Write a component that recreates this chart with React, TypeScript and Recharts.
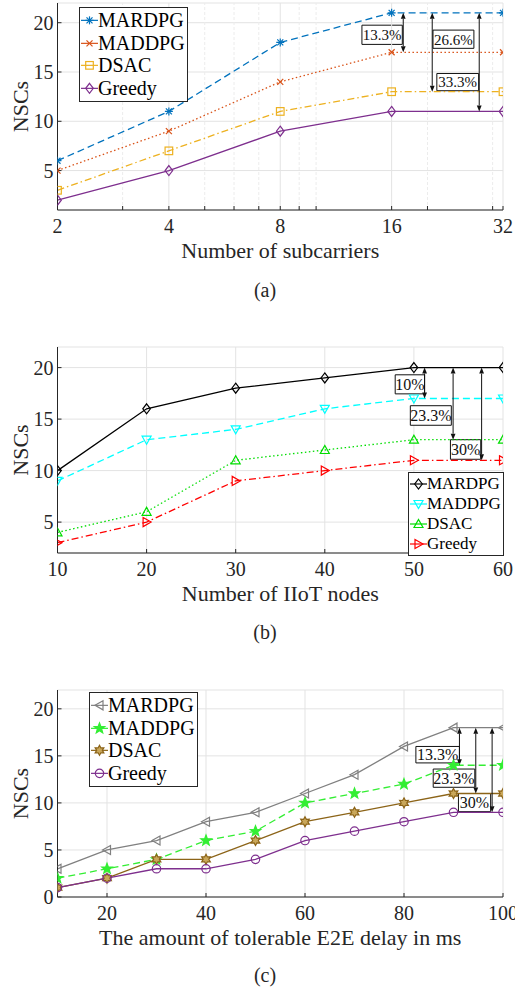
import React from 'react'
import { LineChart, Line, XAxis, YAxis, CartesianGrid, Legend, ReferenceLine, ReferenceArea } from 'recharts'

const FONT = "'Liberation Serif', 'Times New Roman', serif"
const INK = '#262626'

// (a) number of subcarriers
const subcarriers = [2, 4, 8, 16, 32]
const aMARDPG = [6, 11, 18, 21, 21]
const aMADDPG = [5, 9, 14, 17, 17]
const aDSAC = [3, 7, 11, 13, 13]
const aGreedy = [2, 5, 9, 11, 11]
const aTicks = [2, 4, 8, 16, 32]
const aMinor = [3, 5, 6, 7, 9, 10, 20, 30]

// (b) number of IIoT nodes
const nodes = [10, 20, 30, 40, 50, 60]
const bMARDPG = [10, 16, 18, 19, 20, 20]
const bMADDPG = [9, 13, 14, 16, 17, 17]
const bDSAC = [4, 6, 11, 12, 13, 13]
const bGreedy = [3, 5, 9, 10, 11, 11]
const bTicks = [10, 20, 30, 40, 50, 60]

// (c) tolerable E2E delay
const delays = [10, 20, 30, 40, 50, 60, 70, 80, 90, 100]
const cMARDPG = [3, 5, 6, 8, 9, 11, 13, 16, 18, 18]
const cMADDPG = [2, 3, 4, 6, 7, 10, 11, 12, 14, 14]
const cDSAC = [1, 2, 4, 4, 6, 8, 9, 10, 11, 11]
const cGreedy = [1, 2, 3, 3, 4, 6, 7, 8, 9, 9]
const cTicks = [20, 40, 60, 80, 100]

const yTicks5 = [5, 10, 15, 20]
const yTicks0 = [0, 5, 10, 15, 20]

// gap annotations (data coordinates)
const aArrows = [
  { x: 17.2, from: 21, to: 17 },
  { x: 20.6, from: 21, to: 13 },
  { x: 27.6, from: 21, to: 11 },
]
const aBoxes = [
  { x1: 13.3, x2: 17.1, y1: 17.8, y2: 19.75, text: '13.3%' },
  { x1: 20.7, x2: 26.7, y1: 17.4, y2: 19.25, text: '26.6%' },
  { x1: 21.2, x2: 27.5, y1: 13.1, y2: 14.85, text: '33.3%' },
]
const bArrows = [
  { x: 51.2, from: 20, to: 17 },
  { x: 54.4, from: 20, to: 13 },
  { x: 57.6, from: 20, to: 11 },
]
const bBoxes = [
  { x1: 47.9, x2: 51.2, y1: 17.45, y2: 19.3, text: '10%' },
  { x1: 49.6, x2: 54.2, y1: 14.4, y2: 16.3, text: '23.3%' },
  { x1: 54.1, x2: 57.5, y1: 11.1, y2: 13.0, text: '30%' },
]
const cArrows = [
  { x: 91.2, from: 18, to: 14 },
  { x: 94.5, from: 18, to: 11 },
  { x: 97.8, from: 18, to: 9 },
]
const cBoxes = [
  { x1: 82.4, x2: 91.2, y1: 14.25, y2: 16.0, text: '13.3%' },
  { x1: 85.9, x2: 94.3, y1: 11.66, y2: 13.6, text: '23.3%' },
  { x1: 91.0, x2: 97.5, y1: 9.07, y2: 11.0, text: '30%' },
]

type Shape =
  | 'asterisk' | 'cross' | 'square' | 'diamond' | 'tdown' | 'tup' | 'tright' | 'tleft'
  | 'pentagram' | 'hexagram' | 'circle'

interface Series {
  name: string
  values: number[]
  color: string
  dash?: string
  shape: Shape
}

const DASHED = '7 4'
const DOTTED = '1.5 2.5'
const DASHDOT = '7 3 1.5 3'

const aSeries: Series[] = [
  { name: 'MARDPG', values: aMARDPG, color: '#0072BD', dash: DASHED, shape: 'asterisk' },
  { name: 'MADDPG', values: aMADDPG, color: '#D95319', dash: DOTTED, shape: 'cross' },
  { name: 'DSAC', values: aDSAC, color: '#EDB120', dash: DASHDOT, shape: 'square' },
  { name: 'Greedy', values: aGreedy, color: '#7E2F8E', shape: 'diamond' },
]
const bSeries: Series[] = [
  { name: 'MARDPG', values: bMARDPG, color: '#000000', shape: 'diamond' },
  { name: 'MADDPG', values: bMADDPG, color: '#00FFFF', dash: DASHED, shape: 'tdown' },
  { name: 'DSAC', values: bDSAC, color: '#00DD00', dash: DOTTED, shape: 'tup' },
  { name: 'Greedy', values: bGreedy, color: '#FF0000', dash: DASHDOT, shape: 'tright' },
]
const cSeries: Series[] = [
  { name: 'MARDPG', values: cMARDPG, color: '#808080', shape: 'tleft' },
  { name: 'MADDPG', values: cMADDPG, color: '#33EE33', dash: DASHED, shape: 'pentagram' },
  { name: 'DSAC', values: cDSAC, color: '#8C6418', shape: 'hexagram' },
  { name: 'Greedy', values: cGreedy, color: '#7E2F8E', shape: 'circle' },
]

function starPoints(cx: number, cy: number, n: number, ro: number, ri: number) {
  const pts: string[] = []
  for (let i = 0; i < n * 2; i++) {
    const r = i % 2 === 0 ? ro : ri
    const a = -Math.PI / 2 + (i * Math.PI) / n
    pts.push(`${cx + r * Math.cos(a)},${cy + r * Math.sin(a)}`)
  }
  return pts.join(' ')
}

function Marker({ shape, cx, cy, color }: { shape: Shape; cx: number; cy: number; color: string }) {
  const common = { stroke: color, strokeWidth: 1.2, fill: 'none' }
  switch (shape) {
    case 'asterisk':
      return (
        <g {...common}>
          <line x1={cx - 4} y1={cy} x2={cx + 4} y2={cy} />
          <line x1={cx} y1={cy - 4} x2={cx} y2={cy + 4} />
          <line x1={cx - 3} y1={cy - 3} x2={cx + 3} y2={cy + 3} />
          <line x1={cx - 3} y1={cy + 3} x2={cx + 3} y2={cy - 3} />
        </g>
      )
    case 'cross':
      return (
        <g {...common}>
          <line x1={cx - 3} y1={cy - 3} x2={cx + 3} y2={cy + 3} />
          <line x1={cx - 3} y1={cy + 3} x2={cx + 3} y2={cy - 3} />
        </g>
      )
    case 'square':
      return <rect x={cx - 3.8} y={cy - 3.8} width={7.6} height={7.6} {...common} />
    case 'diamond':
      return <polygon points={`${cx},${cy - 5} ${cx + 3.8},${cy} ${cx},${cy + 5} ${cx - 3.8},${cy}`} {...common} />
    case 'tdown':
      return <polygon points={`${cx - 4.5},${cy - 3.5} ${cx + 4.5},${cy - 3.5} ${cx},${cy + 4.5}`} {...common} />
    case 'tup':
      return <polygon points={`${cx - 4.5},${cy + 3.5} ${cx + 4.5},${cy + 3.5} ${cx},${cy - 4.5}`} {...common} />
    case 'tright':
      return <polygon points={`${cx - 3.5},${cy - 4.5} ${cx - 3.5},${cy + 4.5} ${cx + 4.5},${cy}`} {...common} />
    case 'tleft':
      return <polygon points={`${cx + 3.5},${cy - 4.5} ${cx + 3.5},${cy + 4.5} ${cx - 4.5},${cy}`} {...common} />
    case 'pentagram':
      return <polygon points={starPoints(cx, cy, 5, 5.5, 2.3)} {...common} fill={color} />
    case 'hexagram':
      return <polygon points={starPoints(cx, cy, 6, 5, 2.8)} {...common} fill="#c9a75a" />
    case 'circle':
      return <circle cx={cx} cy={cy} r={4.2} {...common} />
  }
  return null
}

function LegendBox({ series, fontSize, rowH, sampleW }: { series: Series[]; fontSize: number; rowH: number; sampleW: number }) {
  return (
    <div
      style={{
        border: `1px solid ${INK}`,
        background: '#fff',
        fontFamily: FONT,
        fontSize,
        color: '#000',
        padding: '1px 2px 1px 0',
        display: 'inline-block',
      }}
    >
      {series.map((s) => (
        <div key={s.name} style={{ display: 'flex', alignItems: 'center', height: rowH, lineHeight: `${rowH}px` }}>
          <svg width={sampleW} height={rowH} style={{ display: 'block' }}>
            <line x1={1} x2={sampleW} y1={rowH / 2} y2={rowH / 2} stroke={s.color} strokeWidth={1.2} />
            <Marker shape={s.shape} cx={sampleW / 2 + 0.5} cy={rowH / 2} color={s.color} />
          </svg>
          <span>{s.name}</span>
        </div>
      ))}
    </div>
  )
}

const ArrowShape = (p: any) => {
  const { x1, y1, x2, y2 } = p
  const h = 6
  const w = 2.4
  const c = '#111'
  return (
    <g>
      <line x1={x1} y1={y1 + h} x2={x2} y2={y2 - h} stroke={c} strokeWidth={1} />
      <polygon points={`${x1},${y1} ${x1 - w},${y1 + h} ${x1 + w},${y1 + h}`} fill={c} />
      <polygon points={`${x2},${y2} ${x2 - w},${y2 - h} ${x2 + w},${y2 - h}`} fill={c} />
    </g>
  )
}

const YTitle = (p: any) => {
  const vb = p.viewBox || { x: 0, y: 0, height: 0 }
  const x = vb.x + 20
  const y = vb.y + vb.height / 2
  return (
    <text
      x={x}
      y={y}
      transform={`rotate(-90, ${x}, ${y})`}
      textAnchor="middle"
      dominantBaseline="central"
      style={{ fontFamily: FONT, fontSize: 22 }}
      fill={INK}
    >
      NSCs
    </text>
  )
}

interface PanelProps {
  top: number
  marginTop: number
  plotH: number
  xs: number[]
  series: Series[]
  xDomain: [number, number]
  xTicks: number[]
  xLog?: boolean
  minor?: number[]
  yDomain: [number, number]
  yTicks: number[]
  xLabel: string
  legendPos: { left: number; top: number }
  legendFont: number
  legendRow: number
  legendSample: number
  arrows: { x: number; from: number; to: number }[]
  boxes: { x1: number; x2: number; y1: number; y2: number; text: string }[]
  boxFont: number
}

function Panel(props: PanelProps) {
  const { top, marginTop, plotH, xs, series } = props
  const data = xs.map((x, i) => {
    const row: Record<string, number> = { x }
    series.forEach((s, j) => {
      row['s' + j] = s.values[i]
    })
    return row
  })
  const axisH = 60
  const tickStyle = { fontSize: 20, fill: INK }
  const minor = props.minor || []
  const hasMinor = minor.length > 0
  const allXTicks = hasMinor ? [...props.xTicks, ...minor].sort((p, q) => p - q) : props.xTicks
  return (
    <div style={{ position: 'absolute', left: 0, top, fontFamily: FONT }}>
      <LineChart
        width={515}
        height={marginTop + plotH + axisH}
        data={data}
        margin={{ top: marginTop, right: 12, left: 0, bottom: 0 }}
        style={{ fontFamily: FONT }}
      >
        <CartesianGrid stroke="#e3e3e3" strokeWidth={1} vertical={!hasMinor} />
        {minor.map((m) => (
          <ReferenceLine key={'m' + m} x={m} stroke="#ececec" strokeDasharray="3 2" />
        ))}
        {hasMinor &&
          props.xTicks.map((t) => <ReferenceLine key={'g' + t} x={t} stroke="#e3e3e3" strokeWidth={1} />)}
        <XAxis
          dataKey="x"
          type="number"
          scale={props.xLog ? 'log' : 'auto'}
          domain={props.xDomain}
          ticks={allXTicks}
          tickFormatter={(v: number) => (props.xTicks.includes(v) ? String(v) : '')}
          allowDataOverflow
          height={axisH}
          tickSize={-4}
          tickMargin={13}
          tick={tickStyle}
          tickLine={{ stroke: INK }}
          axisLine={{ stroke: INK }}
          interval={0}
          label={{ value: props.xLabel, position: 'insideBottom', offset: 12, fontSize: 22, fill: INK }}
        />
        <YAxis
          type="number"
          domain={props.yDomain}
          ticks={props.yTicks}
          allowDataOverflow
          width={57.5}
          tickSize={-4}
          tickMargin={8}
          tick={tickStyle}
          tickLine={{ stroke: INK }}
          axisLine={{ stroke: INK }}
          interval={0}
          label={<YTitle />}
        />
        {series.map((s, j) => (
          <Line
            key={s.name}
            dataKey={'s' + j}
            name={s.name}
            stroke={s.color}
            strokeWidth={1.3}
            strokeDasharray={s.dash}
            isAnimationActive={false}
            activeDot={false}
            dot={(d: any) => <Marker key={s.name + d.index} shape={s.shape} cx={d.cx} cy={d.cy} color={s.color} />}
          />
        ))}
        {props.boxes.map((b) => (
          <ReferenceArea
            key={b.text + b.x1}
            x1={b.x1}
            x2={b.x2}
            y1={b.y1}
            y2={b.y2}
            fill="#fff"
            fillOpacity={1}
            stroke="#111"
            strokeWidth={1}
            label={{ value: b.text, position: 'center', fontSize: props.boxFont, fill: '#111' }}
          />
        ))}
        {props.arrows.map((a) => (
          <ReferenceLine
            key={'a' + a.x}
            segment={[
              { x: a.x, y: a.from },
              { x: a.x, y: a.to },
            ]}
            shape={ArrowShape}
          />
        ))}
        <Legend
          layout="vertical"
          align="center"
          verticalAlign="middle"
          wrapperStyle={{ left: props.legendPos.left, top: props.legendPos.top, width: 'auto', height: 'auto' }}
          content={() => (
            <LegendBox series={series} fontSize={props.legendFont} rowH={props.legendRow} sampleW={props.legendSample} />
          )}
        />
      </LineChart>
    </div>
  )
}

const captionStyle: React.CSSProperties = {
  position: 'absolute',
  left: 215,
  width: 100,
  textAlign: 'center',
  fontFamily: FONT,
  fontSize: 20,
  color: INK,
  lineHeight: '24px',
}

export default function App() {
  return (
    <div style={{ position: 'absolute', left: 0, top: 0, width: 515, height: 991, background: '#fff', overflow: 'hidden', fontFamily: FONT }}>
      <Panel
        top={0}
        marginTop={3}
        plotH={207}
        xs={subcarriers}
        series={aSeries}
        xDomain={[2, 32]}
        xTicks={aTicks}
        xLog
        minor={aMinor}
        yDomain={[1, 22]}
        yTicks={yTicks5}
        xLabel="Number of subcarriers"
        legendPos={{ left: 79, top: 7 }}
        legendFont={20}
        legendRow={22.7}
        legendSample={18}
        arrows={aArrows}
        boxes={aBoxes}
        boxFont={15}
      />
      <div style={{ ...captionStyle, top: 278 }}>(a)</div>
      <Panel
        top={340}
        marginTop={7}
        plotH={206}
        xs={nodes}
        series={bSeries}
        xDomain={[10, 60]}
        xTicks={bTicks}
        yDomain={[2, 22]}
        yTicks={yTicks5}
        xLabel="Number of IIoT nodes"
        legendPos={{ left: 408, top: 132 }}
        legendFont={17}
        legendRow={20}
        legendSample={18}
        arrows={bArrows}
        boxes={bBoxes}
        boxFont={16}
      />
      <div style={{ ...captionStyle, top: 620 }}>(b)</div>
      <Panel
        top={684}
        marginTop={6}
        plotH={207}
        xs={delays}
        series={cSeries}
        xDomain={[10, 100]}
        xTicks={cTicks}
        yDomain={[0, 22]}
        yTicks={yTicks0}
        xLabel="The amount of tolerable E2E delay in ms"
        legendPos={{ left: 89, top: 8 }}
        legendFont={20}
        legendRow={22.7}
        legendSample={18}
        arrows={cArrows}
        boxes={cBoxes}
        boxFont={16}
      />
      <div style={{ ...captionStyle, top: 963 }}>(c)</div>
    </div>
  )
}
